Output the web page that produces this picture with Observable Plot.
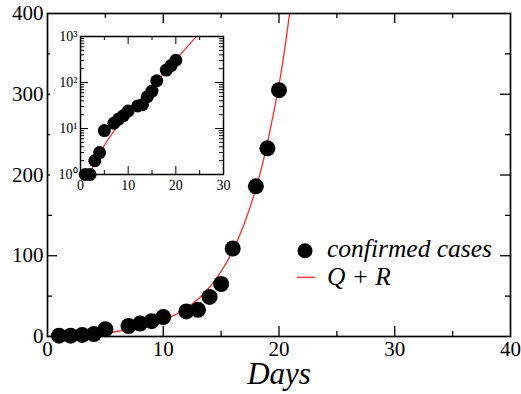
<!DOCTYPE html>
<html><head><meta charset="utf-8">
<script src="https://cdn.jsdelivr.net/npm/d3@7"></script>
<script src="https://cdn.jsdelivr.net/npm/@observablehq/plot@0.6"></script>
<style>
body{margin:0;background:#fff;}
#wrap{position:relative;width:521px;height:394px;font-family:"Liberation Serif","Times New Roman",serif;}
#wrap svg text{font-family:"Liberation Serif","Times New Roman",serif !important;}
#main{position:absolute;left:0;top:0;}
#main svg{display:block;}
#inset{position:absolute;left:50px;top:25px;}
#inset svg{display:block;}
#legend{position:absolute;left:290px;top:235px;}
</style></head><body><div id="wrap"><div id="main"></div><div id="inset"></div><svg id="legend" width="225" height="60"></svg></div>
<script>
// observed data
const days  = [1, 2, 3, 4, 5, 7, 8, 9, 10, 12, 13, 14, 15, 16, 18, 19, 20];
const cases = [1, 1, 2, 3, 9, 13, 16, 19, 24, 31, 33, 49, 65, 109, 186, 233, 305];
// fitted Q + R curve
const fitDays   = [0, 1, 2, 3, 4, 5, 6, 7, 8, 10, 12, 14, 16, 18, 20, 21, 22, 23, 24, 25];
const fitValues = [0.1, 0.4, 0.95, 1.8, 2.9, 4.3, 6.2, 8.7, 12, 20.5, 35, 61, 106, 183, 312, 410, 540, 700, 920, 1200];
const seriesNames = ["confirmed cases", "Q + R"];
// main axes ticks
const xTickLabels = [0, 10, 20, 30, 40];
const xMajor = [10, 20, 30];
const xMinor = [5, 15, 25, 35];
const yTickLabels = [0, 100, 200, 300, 400];
const yMajor = [100, 200, 300];
const yMinor = [50, 150, 250, 350];
// inset ticks
const insetXLabels = [0, 10, 20, 30];
const insetXMajor = [10, 20];
const insetXMinor = [5, 15, 25];
const insetYLabels = [1, 10, 100, 1000];
const insetYLabelText = ["10\u2070", "10\u00B9", "10\u00B2", "10\u00B3"];
const insetYMinor = [2,3,4,5,6,7,8,9,20,30,40,50,60,70,80,90,200,300,400,500,600,700,800,900];

const obs = days.map((d, i) => ({day: d, cases: cases[i]}));
const fit = fitDays.map((d, i) => ({day: d, value: fitValues[i]}));

const FONT = '"Liberation Serif","Times New Roman",serif';
const RED = "#ff2a2a";

// ---------- main plot ----------
const W = 521, H = 394, mL = 47, mR = 11, mT = 13, mB = 58;
const fw = W - mL - mR, fh = H - mT - mB;
const main = Plot.plot({
  width: W, height: H, marginLeft: mL, marginRight: mR, marginTop: mT, marginBottom: mB,
  style: {fontFamily: FONT, fontSize: "21px", background: "transparent", color: "black", overflow: "visible"},
  x: {domain: [0, 40]},
  y: {domain: [0, 400]},
  marks: [
    Plot.line(fit, {x: "day", y: "value", stroke: RED, strokeWidth: 1.3, curve: "catmull-rom", clip: true}),
    Plot.dot(obs, {x: "day", y: "cases", r: 8, fill: "black", stroke: "none"}),
    Plot.tickX(xMajor, {x: d => d, insetTop: fh - 10, stroke: "black", strokeWidth: 1.3}),
    Plot.tickX(xMinor, {x: d => d, insetTop: fh - 5, stroke: "black", strokeWidth: 1.3}),
    Plot.tickX(xMajor, {x: d => d, insetBottom: fh - 10, stroke: "black", strokeWidth: 1.3}),
    Plot.tickX(xMinor, {x: d => d, insetBottom: fh - 5, stroke: "black", strokeWidth: 1.3}),
    Plot.tickY(yMajor, {y: d => d, insetRight: fw - 10, stroke: "black", strokeWidth: 1.3}),
    Plot.tickY(yMinor, {y: d => d, insetRight: fw - 5, stroke: "black", strokeWidth: 1.3}),
    Plot.tickY(yMajor, {y: d => d, insetLeft: fw - 10, stroke: "black", strokeWidth: 1.3}),
    Plot.tickY(yMinor, {y: d => d, insetLeft: fw - 5, stroke: "black", strokeWidth: 1.3}),
    Plot.frame({stroke: "black", strokeWidth: 1.7}),
    Plot.axisX(xTickLabels, {tickSize: 0, tickPadding: 5, label: null, fontSize: 21}),
    Plot.axisY(yTickLabels, {tickSize: 0, tickPadding: 4, label: null, fontSize: 21}),
    Plot.text(["Days"], {frameAnchor: "bottom", lineAnchor: "bottom", dy: 47, fontSize: 31, fontStyle: "italic", fill: "black"})
  ]
});
document.getElementById("main").append(main);

// ---------- inset plot ----------
const iL = 30, iT = 11, iW = 143, iH = 138, iR = 8, iB = 22;
const inset = Plot.plot({
  width: iL + iW + iR, height: iT + iH + iB,
  marginLeft: iL, marginRight: iR, marginTop: iT, marginBottom: iB,
  style: {fontFamily: FONT, fontSize: "14px", background: "white", color: "black", overflow: "visible"},
  x: {domain: [0, 30]},
  y: {type: "log", domain: [1, 1000]},
  marks: [
    Plot.line(fit, {x: "day", y: "value", stroke: RED, strokeWidth: 1.2, curve: "catmull-rom", clip: true}),
    Plot.dot(obs, {x: "day", y: "cases", r: 6.5, fill: "black", stroke: "none"}),
    Plot.tickX(insetXMajor, {x: d => d, insetTop: iH - 8, stroke: "black"}),
    Plot.tickX(insetXMinor, {x: d => d, insetTop: iH - 4, stroke: "black"}),
    Plot.tickX(insetXMajor, {x: d => d, insetBottom: iH - 8, stroke: "black"}),
    Plot.tickX(insetXMinor, {x: d => d, insetBottom: iH - 4, stroke: "black"}),
    Plot.tickY(insetYLabels, {y: d => d, insetRight: iW - 8, stroke: "black"}),
    Plot.tickY(insetYMinor, {y: d => d, insetRight: iW - 4, stroke: "black"}),
    Plot.tickY(insetYLabels, {y: d => d, insetLeft: iW - 8, stroke: "black"}),
    Plot.tickY(insetYMinor, {y: d => d, insetLeft: iW - 4, stroke: "black"}),
    Plot.frame({stroke: "black", strokeWidth: 1.5}),
    Plot.axisX(insetXLabels, {tickSize: 0, tickPadding: 6, label: null, fontSize: 14}),
    Plot.axisY(insetYLabels, {tickSize: 0, tickPadding: 3, label: null, fontSize: 14,
      tickFormat: d => insetYLabelText[insetYLabels.indexOf(d)]})
  ]
});
document.getElementById("inset").append(inset);

// ---------- legend ----------
const lg = d3.select("#legend");
lg.append("circle").attr("cx", 15).attr("cy", 15.7).attr("r", 7.5).attr("fill", "black");
lg.append("text").attr("x", 37).attr("y", 22).attr("font-size", 25.5)
  .attr("font-style", "italic").attr("fill", "black").text(seriesNames[0]);
lg.append("line").attr("x1", 7).attr("x2", 25).attr("y1", 42.3).attr("y2", 42.3)
  .attr("stroke", RED).attr("stroke-width", 1.3);
lg.append("text").attr("x", 37).attr("y", 50).attr("font-size", 25.5)
  .attr("font-style", "italic").attr("fill", "black").text(seriesNames[1]);
</script></body></html>
